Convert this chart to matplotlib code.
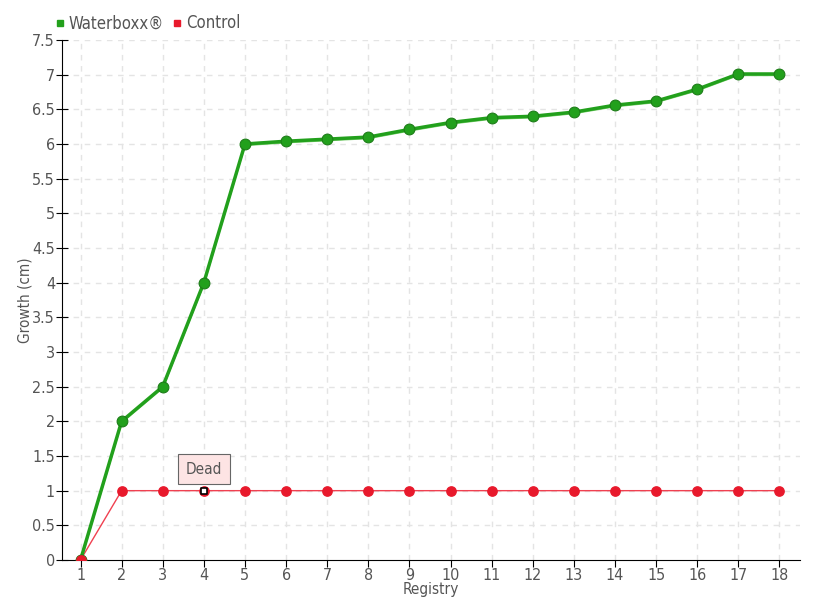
import matplotlib.pyplot as plt
import numpy as np
from matplotlib.lines import Line2D

plt.rcParams['font.family'] = ['DejaVu Sans']
plt.rcParams['font.stretch'] = 'condensed'

registry = list(range(1, 19))
waterboxx = [0, 2, 2.5, 4, 6, 6.04, 6.07, 6.1, 6.21, 6.31, 6.38, 6.4, 6.46, 6.56, 6.62, 6.79, 7.01, 7.01]
control = [0, 1, 1, 1, 1, 1, 1, 1, 1, 1, 1, 1, 1, 1, 1, 1, 1, 1]
dead_idx = 3
yticks = np.arange(0, 7.51, 0.5)
ytick_labels = ["0", "0.5", "1", "1.5", "2", "2.5", "3", "3.5", "4", "4.5",
                "5", "5.5", "6", "6.5", "7", "7.5"]

txt = '#555555'
green = '#22a01c'
red = '#e8192c'

fig = plt.figure(figsize=(8.2, 6.0), dpi=100)
ax = fig.add_axes([62 / 820, 40 / 600, 738 / 820, 520 / 600])

# grid
for x in registry:
    ax.axvline(x, color='#e4e4e4', lw=1, ls=(0, (4, 4)), zorder=0)
for y in yticks[1:]:
    ax.axhline(y, color='#e4e4e4', lw=1, ls=(0, (4, 4)), zorder=0)

# control
ax.plot(registry, control, color='#f04050', lw=1, zorder=2)
ax.scatter([r for i, r in enumerate(registry) if i != dead_idx],
           [c for i, c in enumerate(control) if i != dead_idx],
           s=45, color=red, zorder=3)
ax.scatter([registry[dead_idx]], [control[dead_idx]], s=45, color=red, zorder=3)
ax.scatter([registry[dead_idx]], [control[dead_idx]], s=14, marker='s',
           facecolor='white', edgecolor='black', lw=1.2, zorder=4)

# waterboxx
ax.plot(registry, np.array(waterboxx) - 0.02, color='#7ccf70', lw=1.2, zorder=4)
ax.plot(registry, waterboxx, color=green, lw=2.5, zorder=5)
ax.scatter(registry, waterboxx, s=60, color=green, edgecolor='#1d7d18', lw=0.8, zorder=6)

# first control point on top
ax.scatter([registry[0]], [control[0]], s=45, color=red, zorder=7)

# tooltip
ax.annotate('Dead', xy=(registry[dead_idx], control[dead_idx]), xytext=(0, 15.5),
            textcoords='offset points', ha='center', va='center', color=txt,
            fontsize=11,
            bbox=dict(boxstyle='square,pad=0.5', fc='#fde4e4', ec='#666666', lw=0.8),
            zorder=8)

ax.set_xlim(0.55, 18.5)
ax.set_ylim(0, 7.5)
ax.set_xticks(registry)
ax.set_yticks(yticks)
ax.set_yticklabels(ytick_labels)
ax.tick_params(axis='x', direction='out', length=5, colors=txt, labelsize=11.5, pad=1)
ax.tick_params(axis='y', direction='inout', length=8, colors=txt, labelsize=11.5, pad=1)
ax.tick_params(axis='both', color='black')
for s in ['top', 'right']:
    ax.spines[s].set_visible(False)
ax.spines['left'].set_color('black')
ax.spines['bottom'].set_color('black')
ax.set_xlabel('Registry', color=txt, fontsize=11, labelpad=-1)
ax.set_ylabel('Growth (cm)', color=txt, fontsize=11, labelpad=-0.5)

handles = [Line2D([], [], ls='none', marker='s', color=green, markersize=4.5),
           Line2D([], [], ls='none', marker='s', color=red, markersize=4.5)]
fig.legend(handles, ['Waterboxx®', 'Control'], loc='upper left',
           bbox_to_anchor=(42 / 820, 1 - 1 / 600), ncol=2, frameon=False,
           handlelength=0.6, handletextpad=0.2, columnspacing=0.5,
           labelcolor=txt, fontsize=12, borderpad=0.3)

fig.savefig('out.png', dpi=100)
